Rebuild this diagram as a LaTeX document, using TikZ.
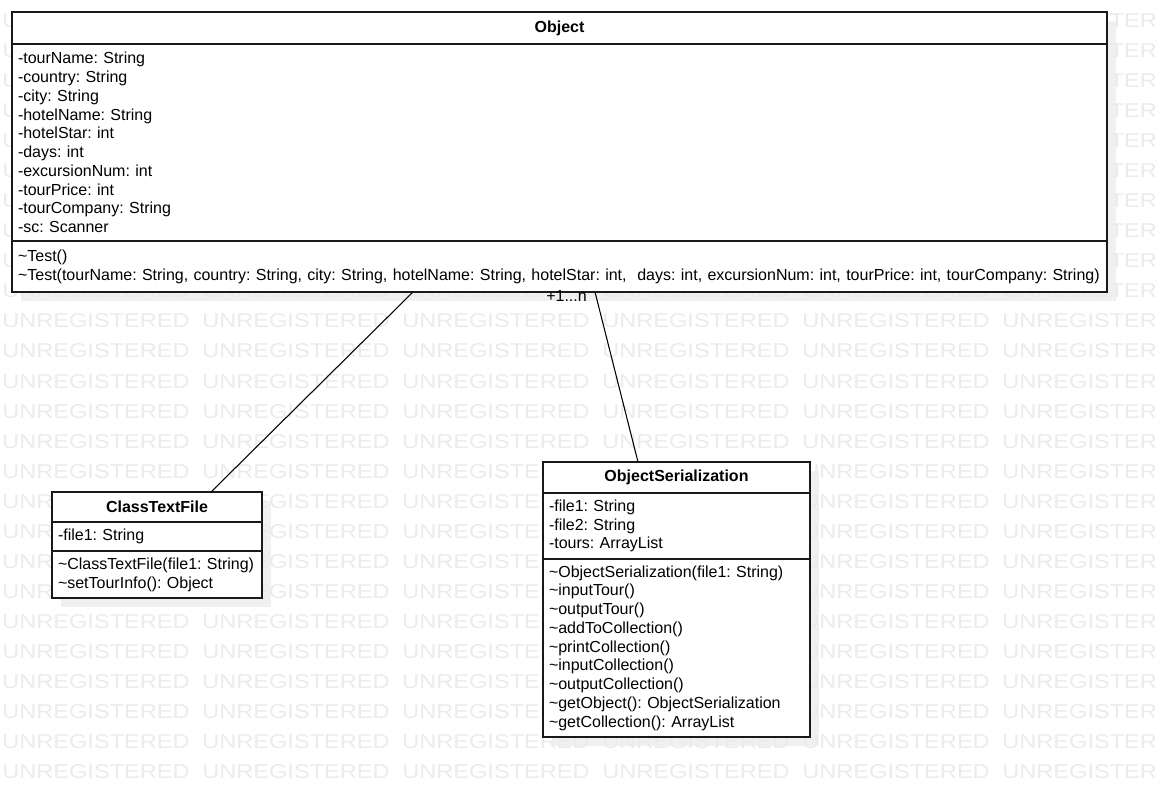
\documentclass[tikz,border=0pt]{standalone}
\usepackage{fontspec}
\setmainfont{Liberation Sans}
\usetikzlibrary{positioning,backgrounds}
\newdimen\px
\px=0.75pt
\newcommand{\tld}{\textasciitilde}
\tikzset{
	umlbox/.style={draw=black!90, line width=0.8pt, fill=white, inner xsep=6\px, inner ysep=0pt, outer sep=0pt,
		font=\fontsize{12}{14.06}\selectfont\frenchspacing},
	umltitle/.style={umlbox, font=\fontsize{12}{14.06}\selectfont\bfseries, align=center},
	umlpart/.style={umlbox, align=left},
	umlshadow/.style={fill=black!6},
	watermark/.style={text=black!8, font=\fontsize{15}{15}\selectfont, inner sep=0pt, anchor=base west},
	assoc/.style={draw=black, line width=0.8pt},
	mult/.style={inner sep=0pt, font=\fontsize{12}{14.06}\selectfont}
}
\begin{document}
\begin{tikzpicture}[x=0.75pt, y=-0.75pt]
	\useasboundingbox (0,0) rectangle (1155,787);
	\clip (0,0) rectangle (1155,787);

	% Object
	\node[umltitle, minimum width=1095\px, text width=1083\px, minimum height=32\px, anchor=north west] (obj) at (12,12) {Object};
	\node[umlpart, minimum width=1095\px, text width=1083\px, minimum height=197\px, below=0pt of obj] (objattr)
		{-tourName: String\\-country: String\\-city: String\\-hotelName: String\\-hotelStar: int\\-days: int\\
		 -excursionNum: int\\-tourPrice: int\\-tourCompany: String\\-sc: Scanner};
	\node[umlpart, minimum width=1095\px, text width=1083\px, minimum height=51\px, below=0pt of objattr] (objops)
		{\tld Test()\\\mbox{\tld Test(tourName: String, country: String, city: String, hotelName: String, hotelStar: int,\ \ days: int, excursionNum: int, tourPrice: int, tourCompany: String)}};

	% ClassTextFile
	\node[umltitle, minimum width=210\px, text width=198\px, minimum height=30\px, anchor=north west] (ctf) at (52,492) {ClassTextFile};
	\node[umlpart, minimum width=210\px, text width=198\px, minimum height=29\px, below=0pt of ctf] (ctfattr) {-file1: String};
	\node[umlpart, minimum width=210\px, text width=198\px, minimum height=47\px, below=0pt of ctfattr] (ctfops)
		{\mbox{\tld ClassTextFile(file1: String)}\\\tld setTourInfo(): Object};

	% ObjectSerialization
	\node[umltitle, minimum width=267\px, text width=255\px, minimum height=31\px, anchor=north west] (os) at (543,462) {ObjectSerialization};
	\node[umlpart, minimum width=267\px, text width=255\px, minimum height=66\px, below=0pt of os] (osattr)
		{-file1: String\\-file2: String\\-tours: ArrayList};
	\node[umlpart, minimum width=267\px, text width=255\px, minimum height=178\px, below=0pt of osattr] (osops)
		{\tld ObjectSerialization(file1: String)\\\tld inputTour()\\\tld outputTour()\\\tld addToCollection()\\
		 \tld printCollection()\\\tld inputCollection()\\\tld outputCollection()\\
		 \tld getObject(): ObjectSerialization\\\tld getCollection(): ArrayList};

	% associations
	\draw[assoc] ([xshift=401\px]objops.south west) -- ([xshift=159\px]ctf.north west);
	\draw[assoc] ([xshift=583\px]objops.south west) coordinate (mstart) -- ([xshift=95\px]os.north west);
	\node[mult, anchor=base east] (osmult) at ([xshift=-8\px,yshift=-10\px]mstart) {+1...n};

	\begin{pgfonlayer}{background}
		\fill[umlshadow] ([xshift=9\px,yshift=-9\px]obj.north west) rectangle ([xshift=9\px,yshift=-9\px]objops.south east);
		\fill[umlshadow] ([xshift=9\px,yshift=-9\px]ctf.north west) rectangle ([xshift=9\px,yshift=-9\px]ctfops.south east);
		\fill[umlshadow] ([xshift=9\px,yshift=-9\px]os.north west) rectangle ([xshift=9\px,yshift=-9\px]osops.south east);
		\foreach \r in {0,...,25}
		{
			\foreach \c in {0,...,5}
			{
				\node[watermark] (wm-\r-\c) at (2+200*\c, 28+30*\r) {\scalebox{1.18}[1]{UNREGISTERED}};
			}
		}
	\end{pgfonlayer}
\end{tikzpicture}
\end{document}
